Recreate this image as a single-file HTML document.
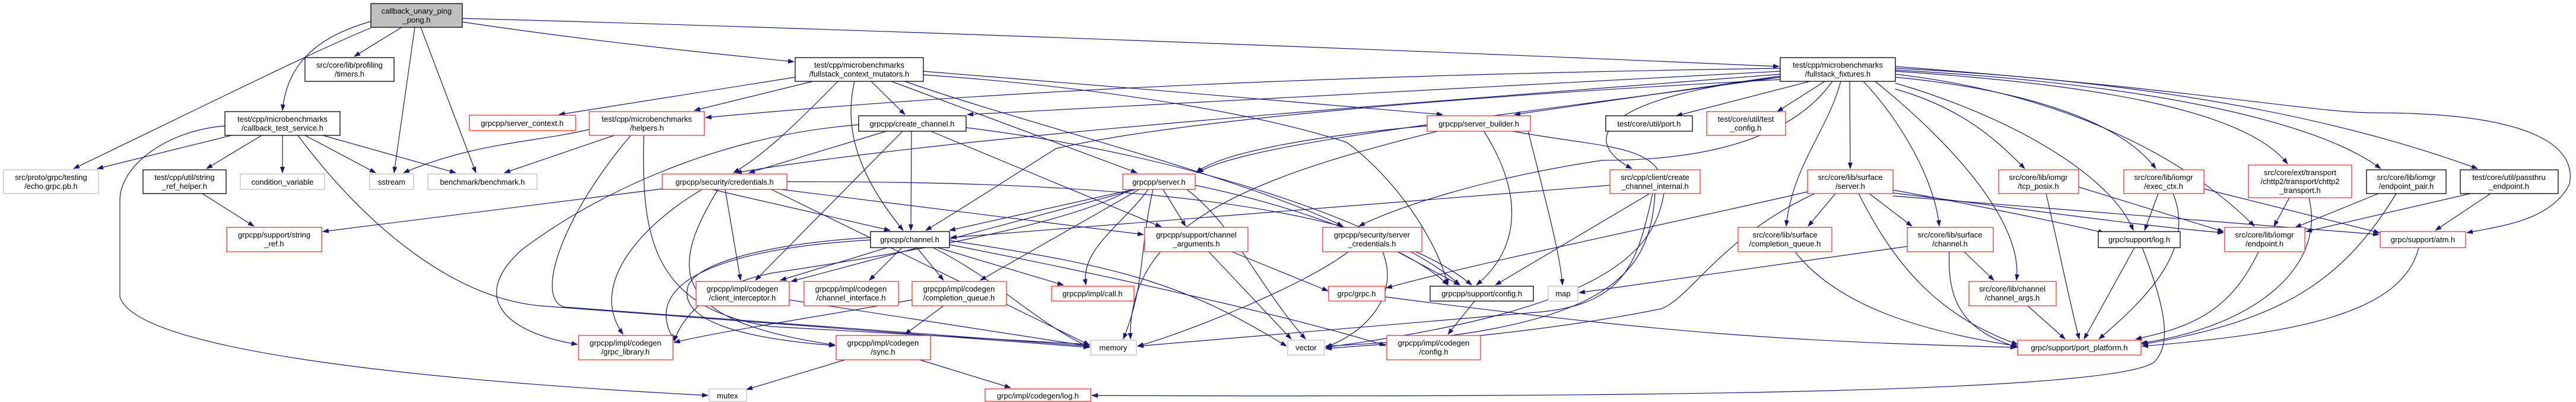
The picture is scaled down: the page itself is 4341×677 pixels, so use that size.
<!DOCTYPE html>
<html><head><meta charset="utf-8"><style>
html,body{margin:0;padding:0;background:#fff;}
svg{display:block;}
text{font-family:"Liberation Sans",sans-serif;font-size:13px;fill:#000;text-anchor:middle;}
.e{fill:none;stroke:#191970;stroke-width:1.2;marker-end:url(#a);}
.k{fill:#fff;stroke:#000;stroke-width:1.3;}
.r{fill:#fff;stroke:#ff3030;stroke-width:1.3;}
.g{fill:#fff;stroke:#bfbfbf;stroke-width:1.3;}
</style></head><body>
<svg width="4341" height="677" viewBox="0 0 4341 677" xmlns="http://www.w3.org/2000/svg">
<defs><marker id="a" markerUnits="userSpaceOnUse" markerWidth="11" markerHeight="8" refX="10" refY="4" orient="auto"><path d="M0,0 L11,4 L0,8 z" fill="#191970"/></marker></defs>
<g>
<path class="e" d="M677,46 L597,95"/>
<path class="e" d="M625,36 C560,55 485,90 476,186"/>
<path class="e" d="M625,47 C520,90 300,200 124,284"/>
<path class="e" d="M699,46 L664,291"/>
<path class="e" d="M709,46 L802,291"/>
<path class="e" d="M779,37 C1000,70 1200,90 1338,104"/>
<path class="e" d="M779,31 C1500,50 2500,90 2998,112"/>
<path class="e" d="M390,228 L164,284"/>
<path class="e" d="M441,228 L348,284"/>
<path class="e" d="M476,228 L476,291"/>
<path class="e" d="M514,228 L633,291"/>
<path class="e" d="M544,228 L768,291"/>
<path class="e" d="M502,228 C600,360 750,500 910,515 L1836,585"/>
<path class="e" d="M379,212 C280,220 200,280 202,340 L202,500 C230,590 700,640 1193,666"/>
<path class="e" d="M341,326 L428,381"/>
<path class="e" d="M1340,130 L942,193"/>
<path class="e" d="M1370,137 L1170,186"/>
<path class="e" d="M1412,137 C1350,200 1290,260 1236,291"/>
<path class="e" d="M1440,137 C1420,220 1450,300 1522,388"/>
<path class="e" d="M1468,137 L1525,193"/>
<path class="e" d="M1502,137 L1916,291"/>
<path class="e" d="M1525,137 C1700,200 2100,300 2263,381"/>
<path class="e" d="M1556,120 C1800,140 2300,180 2431,193"/>
<path class="e" d="M1556,126 C1900,150 2150,200 2270,240 C2350,300 2420,400 2440,480"/>
<path class="e" d="M993,218 C900,240 800,240 680,291"/>
<path class="e" d="M1035,228 L850,291"/>
<path class="e" d="M1063,228 C950,360 900,500 950,517 L1836,583"/>
<path class="e" d="M1085,228 C1080,400 1100,520 1300,550 L1836,580"/>
<path class="e" d="M1200,319 L1500,388"/>
<path class="e" d="M1222,319 L1248,472"/>
<path class="e" d="M1210,319 C1130,450 1120,540 1407,581"/>
<path class="e" d="M1183,319 C1080,380 990,480 1050,563"/>
<path class="e" d="M1326,306 C1800,305 2300,330 2480,480"/>
<path class="e" d="M1316,319 L1927,395"/>
<path class="e" d="M1116,318 L544,390"/>
<path class="e" d="M1497,220 L1262,291"/>
<path class="e" d="M1536,220 L1535,388"/>
<path class="e" d="M1522,220 L1273,472"/>
<path class="e" d="M1566,220 L1957,382"/>
<path class="e" d="M1447,210 C1200,230 1000,330 880,420 C790,500 850,560 973,580"/>
<path class="e" d="M1628,215 C2000,260 2350,380 2460,480"/>
<path class="e" d="M1910,319 L1600,388"/>
<path class="e" d="M1915,319 L1333,474"/>
<path class="e" d="M1920,319 L1652,472"/>
<path class="e" d="M1960,319 L1998,381"/>
<path class="e" d="M1935,319 C1890,380 1820,420 1830,480"/>
<path class="e" d="M1943,319 C1920,420 1930,480 1893,571"/>
<path class="e" d="M1905,319 C1800,380 1500,430 1300,460 C1200,480 1150,530 1136,575"/>
<path class="e" d="M2000,319 C2080,380 2120,480 2200,571"/>
<path class="e" d="M2014,312 C2200,350 2380,420 2440,480"/>
<path class="e" d="M2405,212 C2200,230 2050,260 2016,291"/>
<path class="e" d="M2500,220 C2570,330 2560,420 2488,480"/>
<path class="e" d="M2575,220 C2600,320 2630,430 2633,480"/>
<path class="e" d="M2427,220 C2100,300 1900,380 1905,571"/>
<path class="e" d="M2544,220 C2700,250 2800,240 2805,320 C2790,420 2720,520 2234,585"/>
<path class="e" d="M3050,137 L2825,195"/>
<path class="e" d="M3075,137 L2995,188"/>
<path class="e" d="M3000,130 C2720,160 2650,230 2750,284"/>
<path class="e" d="M3117,137 L3118,284"/>
<path class="e" d="M3102,137 C3080,220 3020,280 3010,381"/>
<path class="e" d="M3140,137 C3200,200 3260,300 3268,381"/>
<path class="e" d="M3160,137 C3300,250 3410,380 3398,472"/>
<path class="e" d="M3194,150 C3300,180 3360,230 3412,284"/>
<path class="e" d="M3194,130 C3400,150 3570,200 3633,284"/>
<path class="e" d="M3194,140 C3400,200 3560,300 3595,388"/>
<path class="e" d="M3194,120 C3500,140 3780,180 3855,276"/>
<path class="e" d="M3194,125 C3500,160 3700,280 3799,381"/>
<path class="e" d="M3194,118 C3600,140 3900,200 4012,284"/>
<path class="e" d="M3194,115 C3700,140 4000,220 4175,284"/>
<path class="e" d="M3194,112 C3700,150 3900,190 4000,190 C4300,190 4340,260 4330,310 C4300,370 4220,380 4157,392"/>
<path class="e" d="M3000,115 C2000,130 1500,170 1189,198"/>
<path class="e" d="M3000,120 L1630,193"/>
<path class="e" d="M3000,125 C2300,180 1600,230 1240,291"/>
<path class="e" d="M3000,128 L2552,193"/>
<path class="e" d="M3000,130 C2500,200 2100,240 2018,291"/>
<path class="e" d="M3000,134 C2500,160 2000,200 1780,250 C1700,300 1640,340 1560,388"/>
<path class="e" d="M3088,137 C3000,260 2800,270 2700,270 C2500,300 2350,350 2290,381"/>
<path class="e" d="M2780,326 L2520,480"/>
<path class="e" d="M2713,312 C2400,340 2000,370 1602,400"/>
<path class="e" d="M2785,326 C2760,440 2740,510 2600,525 L1917,583"/>
<path class="e" d="M2789,326 C2780,460 2720,560 2234,583"/>
<path class="e" d="M3093,326 L3047,381"/>
<path class="e" d="M3150,326 L3222,381"/>
<path class="e" d="M3046,323 C2800,380 2500,440 2336,485"/>
<path class="e" d="M3132,326 C3190,440 3260,530 3400,580"/>
<path class="e" d="M3058,326 C2900,400 2850,500 2800,520 C2600,560 2400,575 2234,587"/>
<path class="e" d="M3214,415 L2661,493"/>
<path class="e" d="M3190,320 C3300,340 3450,370 3546,392"/>
<path class="e" d="M3190,325 C3400,350 3600,380 3747,392"/>
<path class="e" d="M3190,330 C3600,360 3850,380 4009,395"/>
<path class="e" d="M3025,424 C3100,520 3250,560 3400,583"/>
<path class="e" d="M3310,424 L3360,472"/>
<path class="e" d="M3285,424 C3280,520 3320,560 3400,585"/>
<path class="e" d="M3417,515 L3480,571"/>
<path class="e" d="M3448,326 C3470,420 3490,520 3504,571"/>
<path class="e" d="M3503,315 L3747,390"/>
<path class="e" d="M3637,326 L3614,388"/>
<path class="e" d="M3662,326 C3700,420 3620,500 3537,571"/>
<path class="e" d="M3714,318 L4010,392"/>
<path class="e" d="M3858,333 L3832,381"/>
<path class="e" d="M3891,333 C3920,450 3800,550 3608,578"/>
<path class="e" d="M4008,326 L3868,383"/>
<path class="e" d="M4038,326 C3950,470 3850,540 3610,580"/>
<path class="e" d="M4163,326 L3886,390"/>
<path class="e" d="M4197,326 L4104,388"/>
<path class="e" d="M3597,417 L3512,571"/>
<path class="e" d="M3610,417 C3650,520 3660,580 3630,610 C3560,660 2800,670 1840,666"/>
<path class="e" d="M3806,424 C3760,520 3700,550 3599,571"/>
<path class="e" d="M4076,417 C4050,520 3900,560 3610,583"/>
<path class="e" d="M1495,417 L1315,472"/>
<path class="e" d="M1520,417 L1465,472"/>
<path class="e" d="M1545,417 L1590,472"/>
<path class="e" d="M1580,417 L1792,480"/>
<path class="e" d="M1572,417 C1680,470 1740,540 1836,585"/>
<path class="e" d="M1600,405 C1900,450 2000,480 2168,583"/>
<path class="e" d="M1467,400 C1300,410 1180,440 1160,480 C1140,540 1250,570 1407,582"/>
<path class="e" d="M1467,404 C1200,420 1080,480 1136,573"/>
<path class="e" d="M1600,412 C1900,470 2200,540 2335,582"/>
<path class="e" d="M1330,505 L1836,583"/>
<path class="e" d="M1590,515 L1525,563"/>
<path class="e" d="M1537,505 C1400,530 1200,560 1136,577"/>
<path class="e" d="M1424,606 L1258,656"/>
<path class="e" d="M1550,606 L1703,653"/>
<path class="e" d="M2037,424 L2176,571"/>
<path class="e" d="M2076,424 L2238,490"/>
<path class="e" d="M2355,424 L2460,480"/>
<path class="e" d="M2330,424 C2360,500 2300,560 2234,585"/>
<path class="e" d="M2272,424 C2200,480 2000,560 1917,583"/>
<path class="e" d="M2334,500 C2800,560 3000,575 3398,585"/>
<path class="e" d="M2485,507 L2440,563"/>
<path class="e" d="M1300,319 L1836,581"/>
</g>
<g>
<rect x="625" y="6" width="154" height="40" fill="#bfbfbf" stroke="#000" stroke-width="1.3"/><text x="702" y="23">callback_unary_ping</text><text x="702" y="38">_pong.h</text>
<rect class="k" x="514" y="97" width="150" height="40"/><text x="589" y="114">src/core/lib/profiling</text><text x="589" y="129">/timers.h</text>
<rect class="k" x="379" y="188" width="194" height="40"/><text x="476" y="205">test/cpp/microbenchmarks</text><text x="476" y="220">/callback_test_service.h</text>
<rect class="g" x="6" y="286" width="160" height="40"/><text x="86" y="303">src/proto/grpc/testing</text><text x="86" y="318">/echo.grpc.pb.h</text>
<rect class="k" x="241" y="286" width="140" height="40"/><text x="311" y="303">test/cpp/util/string</text><text x="311" y="318">_ref_helper.h</text>
<rect class="g" x="405" y="293" width="142" height="26"/><text x="476" y="311">condition_variable</text>
<rect class="g" x="623" y="293" width="74" height="26"/><text x="660" y="311">sstream</text>
<rect class="g" x="721" y="293" width="184" height="26"/><text x="813" y="311">benchmark/benchmark.h</text>
<rect class="r" x="382" y="383" width="160" height="41"/><text x="462" y="400">grpcpp/support/string</text><text x="462" y="415">_ref.h</text>
<rect class="r" x="791" y="194" width="179" height="26"/><text x="880" y="212">grpcpp/server_context.h</text>
<rect class="r" x="993" y="188" width="194" height="40"/><text x="1090" y="205">test/cpp/microbenchmarks</text><text x="1090" y="220">/helpers.h</text>
<rect class="r" x="975" y="565" width="159" height="41"/><text x="1054" y="582">grpcpp/impl/codegen</text><text x="1054" y="597">/grpc_library.h</text>
<rect class="k" x="1340" y="97" width="216" height="40"/><text x="1448" y="114">test/cpp/microbenchmarks</text><text x="1448" y="129">/fullstack_context_mutators.h</text>
<rect class="k" x="1447" y="195" width="181" height="26"/><text x="1537" y="213">grpcpp/create_channel.h</text>
<rect class="r" x="1116" y="293" width="210" height="26"/><text x="1221" y="311">grpcpp/security/credentials.h</text>
<rect class="r" x="1892" y="293" width="122" height="26"/><text x="1953" y="311">grpcpp/server.h</text>
<rect class="k" x="1467" y="390" width="133" height="27"/><text x="1533" y="408">grpcpp/channel.h</text>
<rect class="r" x="1929" y="383" width="174" height="41"/><text x="2016" y="400">grpcpp/support/channel</text><text x="2016" y="415">_arguments.h</text>
<rect class="r" x="1173" y="474" width="157" height="41"/><text x="1251" y="491">grpcpp/impl/codegen</text><text x="1251" y="506">/client_interceptor.h</text>
<rect class="r" x="1355" y="474" width="159" height="41"/><text x="1434" y="491">grpcpp/impl/codegen</text><text x="1434" y="506">/channel_interface.h</text>
<rect class="r" x="1537" y="474" width="159" height="41"/><text x="1616" y="491">grpcpp/impl/codegen</text><text x="1616" y="506">/completion_queue.h</text>
<rect class="r" x="1772" y="482" width="139" height="25"/><text x="1841" y="499">grpcpp/impl/call.h</text>
<rect class="g" x="1838" y="573" width="77" height="25"/><text x="1876" y="590">memory</text>
<rect class="r" x="1409" y="565" width="159" height="41"/><text x="1488" y="582">grpcpp/impl/codegen</text><text x="1488" y="597">/sync.h</text>
<rect class="g" x="1195" y="655" width="63" height="21"/><text x="1226" y="671">mutex</text>
<rect class="r" x="1660" y="655" width="178" height="21"/><text x="1749" y="671">grpc/impl/codegen/log.h</text>
<rect class="k" x="3000" y="97" width="194" height="40"/><text x="3097" y="114">test/cpp/microbenchmarks</text><text x="3097" y="129">/fullstack_fixtures.h</text>
<rect class="r" x="2405" y="195" width="174" height="26"/><text x="2492" y="213">grpcpp/server_builder.h</text>
<rect class="k" x="2706" y="195" width="146" height="26"/><text x="2779" y="213">test/core/util/port.h</text>
<rect class="r" x="2876" y="188" width="133" height="40"/><text x="2942" y="205">test/core/util/test</text><text x="2942" y="220">_config.h</text>
<rect class="r" x="2713" y="286" width="152" height="40"/><text x="2789" y="303">src/cpp/client/create</text><text x="2789" y="318">_channel_internal.h</text>
<rect class="r" x="3046" y="286" width="144" height="40"/><text x="3118" y="303">src/core/lib/surface</text><text x="3118" y="318">/server.h</text>
<rect class="r" x="2229" y="383" width="167" height="41"/><text x="2312" y="400">grpcpp/security/server</text><text x="2312" y="415">_credentials.h</text>
<rect class="r" x="2929" y="383" width="158" height="41"/><text x="3008" y="400">src/core/lib/surface</text><text x="3008" y="415">/completion_queue.h</text>
<rect class="r" x="3214" y="383" width="145" height="41"/><text x="3286" y="400">src/core/lib/surface</text><text x="3286" y="415">/channel.h</text>
<rect class="r" x="2239" y="482" width="95" height="25"/><text x="2286" y="499">grpc/grpc.h</text>
<rect class="k" x="2410" y="482" width="174" height="25"/><text x="2497" y="499">grpcpp/support/config.h</text>
<rect class="g" x="2609" y="482" width="50" height="25"/><text x="2634" y="499">map</text>
<rect class="g" x="2170" y="573" width="62" height="25"/><text x="2201" y="590">vector</text>
<rect class="r" x="2337" y="565" width="158" height="41"/><text x="2416" y="582">grpcpp/impl/codegen</text><text x="2416" y="597">/config.h</text>
<rect class="r" x="3368" y="286" width="135" height="40"/><text x="3435" y="303">src/core/lib/iomgr</text><text x="3435" y="318">/tcp_posix.h</text>
<rect class="r" x="3579" y="286" width="135" height="40"/><text x="3646" y="303">src/core/lib/iomgr</text><text x="3646" y="318">/exec_ctx.h</text>
<rect class="r" x="3789" y="278" width="174" height="55"/><text x="3876" y="295">src/core/ext/transport</text><text x="3876" y="310">/chttp2/transport/chttp2</text><text x="3876" y="325">_transport.h</text>
<rect class="k" x="3988" y="286" width="134" height="40"/><text x="4055" y="303">src/core/lib/iomgr</text><text x="4055" y="318">/endpoint_pair.h</text>
<rect class="k" x="4146" y="286" width="165" height="40"/><text x="4228" y="303">test/core/util/passthru</text><text x="4228" y="318">_endpoint.h</text>
<rect class="k" x="3536" y="390" width="138" height="27"/><text x="3605" y="408">grpc/support/log.h</text>
<rect class="r" x="3749" y="383" width="135" height="41"/><text x="3816" y="400">src/core/lib/iomgr</text><text x="3816" y="415">/endpoint.h</text>
<rect class="r" x="4011" y="390" width="144" height="27"/><text x="4083" y="408">grpc/support/atm.h</text>
<rect class="r" x="3318" y="474" width="147" height="41"/><text x="3391" y="491">src/core/lib/channel</text><text x="3391" y="506">/channel_args.h</text>
<rect class="r" x="3400" y="573" width="208" height="25"/><text x="3504" y="590">grpc/support/port_platform.h</text>
</g>
</svg>
</body></html>
